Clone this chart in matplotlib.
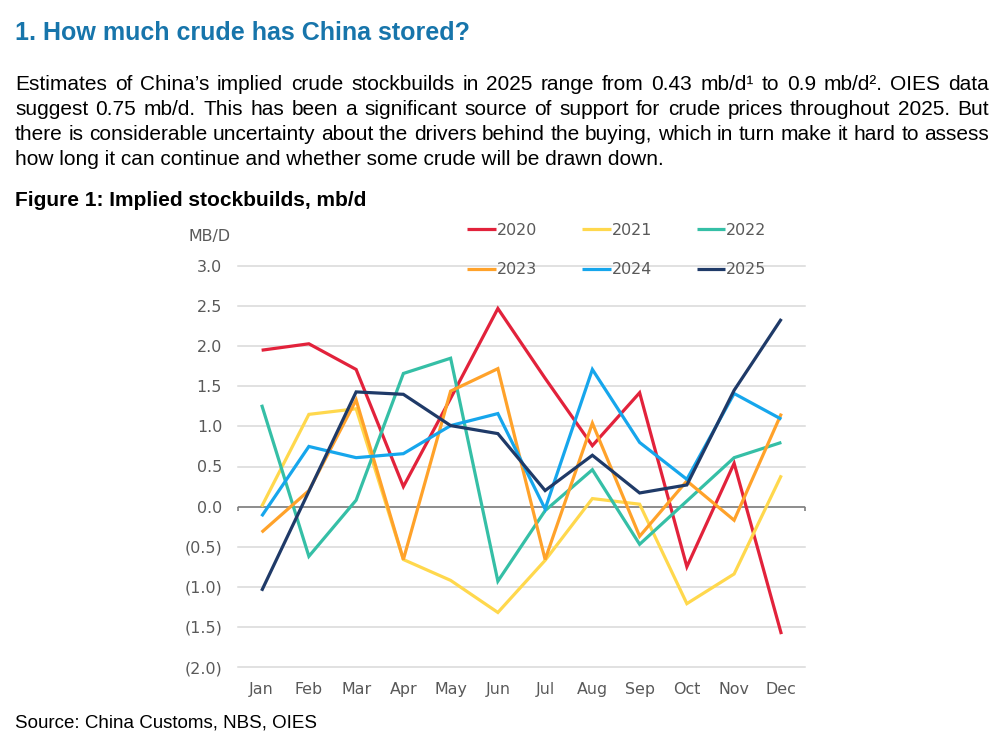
import matplotlib
matplotlib.use("Agg")
import matplotlib.pyplot as plt
from matplotlib.ticker import FuncFormatter, MultipleLocator

# ---------------- data ----------------
months = ['Jan', 'Feb', 'Mar', 'Apr', 'May', 'Jun', 'Jul', 'Aug', 'Sep', 'Oct', 'Nov', 'Dec']
years = ['2020', '2021', '2022', '2023', '2024', '2025']
y2020 = [1.95, 2.03, 1.71, 0.25, 1.35, 2.47, 1.60, 0.76, 1.42, -0.75, 0.54, -1.59]
y2021 = [0.00, 1.15, 1.22, -0.66, -0.92, -1.32, -0.67, 0.10, 0.03, -1.21, -0.84, 0.39]
y2022 = [1.27, -0.62, 0.08, 1.66, 1.85, -0.93, -0.05, 0.46, -0.47, 0.07, 0.61, 0.80]
y2023 = [-0.32, 0.20, 1.33, -0.66, 1.44, 1.72, -0.66, 1.04, -0.37, 0.32, -0.17, 1.16]
y2024 = [-0.12, 0.75, 0.61, 0.66, 1.01, 1.16, -0.03, 1.71, 0.80, 0.34, 1.41, 1.09]
y2025 = [-1.05, 0.19, 1.43, 1.40, 1.01, 0.91, 0.20, 0.64, 0.17, 0.27, 1.45, 2.34]
series = [y2020, y2021, y2022, y2023, y2024, y2025]
colors = ['#E2223B', '#FFD84D', '#35BFA6', '#FFA22A', '#16A6EC', '#1F3A68']

title = "1. How much crude has China stored?"
body_lines = [
    "Estimates of China\u2019s implied crude stockbuilds in 2025 range from 0.43 mb/d\u00b9 to 0.9 mb/d\u00b2. OIES data",
    "suggest 0.75 mb/d. This has been a significant source of support for crude prices throughout 2025. But",
    "there is considerable uncertainty about the drivers behind the buying, which in turn make it hard to assess",
    "how long it can continue and whether some crude will be drawn down.",
]
caption = "Figure 1: Implied stockbuilds, mb/d"
source = "Source: China Customs, NBS, OIES"

# ---------------- figure ----------------
W, H = 1004, 739
fig = plt.figure(figsize=(W / 100, H / 100), dpi=100)
fig.patch.set_facecolor('white')

DOC = 'Liberation Sans'
CH = 'DejaVu Sans'
GRAY = '#595959'

def fx(px):
    return px / W

def fy(py):
    return 1 - py / H

# title
fig.text(fx(15), fy(40), title, fontsize=18, fontweight='bold', color='#1775AB',
         family=DOC, va='baseline', ha='left')

# justified body text
renderer = fig.canvas.get_renderer()
BODY_FS = 15
left_px, right_px = 15, 989
baselines = [90, 115, 140, 165]

def text_w(s):
    t = fig.text(0, 0, s, fontsize=BODY_FS, family=DOC)
    w = t.get_window_extent(renderer).width
    t.remove()
    return w

for i, (line, by) in enumerate(zip(body_lines, baselines)):
    if i == len(body_lines) - 1:
        fig.text(fx(left_px), fy(by), line, fontsize=BODY_FS, family=DOC,
                 color='black', va='baseline', ha='left')
        continue
    words = line.split(' ')
    widths = [text_w(w) for w in words]
    gap = (right_px - left_px - sum(widths)) / (len(words) - 1)
    x = left_px
    for w, wd in zip(words, widths):
        fig.text(fx(x), fy(by), w, fontsize=BODY_FS, family=DOC,
                 color='black', va='baseline', ha='left')
        x += wd + gap

# caption and source
fig.text(fx(15), fy(205.5), caption, fontsize=15, fontweight='bold', color='black',
         family=DOC, va='baseline', ha='left')
fig.text(fx(15), fy(728), source, fontsize=13.5, color='black',
         family=DOC, va='baseline', ha='left')

# ---------------- chart ----------------
ax_l, ax_r, ax_t, ax_b = 238, 805, 266, 667
ax = fig.add_axes([fx(ax_l), fy(ax_b), (ax_r - ax_l) / W, (ax_b - ax_t) / H])
x = list(range(len(months)))
lines = []
for yr, ys, c in zip(years, series, colors):
    ln, = ax.plot(x, ys, color=c, lw=2.3, label=yr, solid_joinstyle='miter',
                  solid_capstyle='butt', zorder=3)
    lines.append(ln)

ax.set_xlim(-0.5, 11.5)
ax.set_ylim(-2.0, 3.0)
ax.yaxis.set_major_locator(MultipleLocator(0.5))
ax.yaxis.set_major_formatter(FuncFormatter(
    lambda v, p: f"({abs(v):.1f})" if v < -1e-9 else f"{abs(v):.1f}"))
ax.set_xticks(x)
ax.set_xticklabels(months)
for s in ax.spines.values():
    s.set_visible(False)
ax.tick_params(axis='both', length=0, colors=GRAY, labelsize=11.4)
ax.tick_params(axis='y', pad=11.5)
ax.tick_params(axis='x', pad=11)
for lab in ax.get_xticklabels() + ax.get_yticklabels():
    lab.set_family(CH)
    lab.set_color(GRAY)
ax.grid(axis='y', color='#D9D9D9', lw=1.1, zorder=0)
ax.grid(axis='x', visible=False)
ax.set_axisbelow(True)
for gl in ax.get_ygridlines():
    gl.set_clip_on(False)

# zero axis line with end ticks
ax.axhline(0, color='#7F7F7F', lw=1.2, zorder=2)
ax.vlines([-0.5, 11.5], -0.06, 0, color='#7F7F7F', lw=1.2, zorder=2, clip_on=False)

# units label
fig.text(fx(210), fy(236), 'MB/D', fontsize=11.4, color=GRAY, family=CH,
         ha='center', va='center')

# legend (row-wise order)
order = [0, 3, 1, 4, 2, 5]
leg = fig.legend([lines[i] for i in order], [years[i] for i in order],
                 loc='center', bbox_to_anchor=(fx(617), fy(250)), ncol=3,
                 frameon=False, handlelength=1.8, handletextpad=0.05,
                 columnspacing=2.85, labelspacing=1.55, borderpad=0, borderaxespad=0,
                 prop={'family': CH, 'size': 11.4})
for t in leg.get_texts():
    t.set_color(GRAY)

fig.savefig('out.png', dpi=100, facecolor='white')
